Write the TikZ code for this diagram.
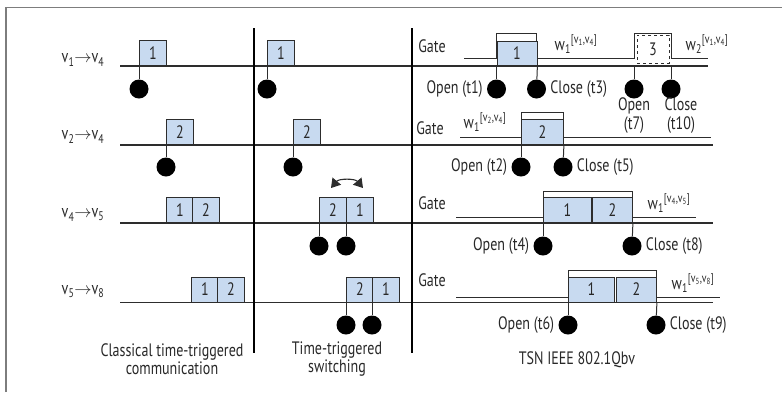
\documentclass[tikz,border=0pt]{standalone}
\usepackage{fontspec}
\setmainfont{PT Sans}[FakeStretch=0.78]
\usetikzlibrary{positioning,arrows.meta}
\definecolor{ttBlue}{RGB}{200,218,240}
\definecolor{ttGray}{RGB}{45,45,45}
\definecolor{ttFrame}{RGB}{125,125,125}
\definecolor{ttText}{RGB}{40,40,40}
\tikzset{
    base/.style={font=\fontsize{18}{18.5}\selectfont, text=ttText, align=center},
    pkt/.style={base, rectangle, draw=ttGray, fill=ttBlue, line width=0.9pt,
                inner sep=0pt, minimum height=25pt, minimum width=27pt, anchor=south west},
    pktdash/.style={base, rectangle, draw=ttGray, fill=white, dashed, line width=0.9pt,
                inner sep=0pt, minimum height=28pt, minimum width=32pt},
    evdot/.style={circle, fill=black, inner sep=0pt, minimum size=19pt},
    pinline/.style={draw=ttGray, line width=1pt},
    tline/.style={draw=ttGray, line width=1.2pt},
    gateline/.style={draw=ttGray, line width=1pt},
    divider/.style={draw=black, line width=1.2pt},
    evtext/.style={base, inner sep=2pt}
}
\begin{document}
\begin{tikzpicture}[x=1pt, y=-1pt]
  \useasboundingbox (0,0) rectangle (782,392);
  % frame
  \draw[ttFrame, line width=1.2pt] (6,392) -- (6,7.5) -- (782,7.5);

  % time lines and dividers
  \draw[tline] (120,66) -- (708,66);
  \draw[tline] (120,145) -- (713,145);
  \draw[tline] (120,223) -- (713,223);
  \draw[tline] (120,302.5) -- (713,302.5);
  \draw[divider] (254,28) -- (254,353);
  \draw[divider] (412,28) -- (412,353);

  % flows
  \node[base] (f1) at (83,60) {v\textsubscript{1}$\rightarrow$v\textsubscript{4}};
  \node[base] (f2) at (83,137) {v\textsubscript{2}$\rightarrow$v\textsubscript{4}};
  \node[base] (f3) at (83,215) {v\textsubscript{4}$\rightarrow$v\textsubscript{5}};
  \node[base] (f4) at (83,292) {v\textsubscript{5}$\rightarrow$v\textsubscript{8}};

  % classical time-triggered communication
  \node[pkt] (a1) at (139,66) {1};
  \node[pkt] (a2) at (166,145) {2};
  \node[pkt] (a3) at (166,223) {1};
  \node[pkt] (a4) at (192,223) {2};
  \node[pkt] (a5) at (191,302.5) {1};
  \node[pkt] (a6) at (217,302.5) {2};
  \node[evdot] (ca1) at (139,89) {};
  \node[evdot] (ca2) at (166,167) {};
  \draw[pinline] (a1.south west) -- (ca1);
  \draw[pinline] (a2.south west) -- (ca2);

  % time-triggered switching
  \node[pkt] (b1) at (267,66) {1};
  \node[pkt] (b2) at (293,145) {2};
  \node[pkt] (b3) at (319,223) {2};
  \node[pkt] (b4) at (346,223) {1};
  \node[pkt] (b5) at (346,302.5) {2};
  \node[pkt] (b6) at (372,302.5) {1};
  \node[evdot] (cb1) at (267,89) {};
  \node[evdot] (cb2) at (293,167) {};
  \node[evdot] (cb3) at (319,246) {};
  \node[evdot] (cb4) at (346,246) {};
  \node[evdot] (cb5) at (346,325) {};
  \node[evdot] (cb6) at (372,325) {};
  \draw[pinline] (b1.south west) -- (cb1);
  \draw[pinline] (b2.south west) -- (cb2);
  \draw[pinline] (b3.south west) -- (cb3);
  \draw[pinline] (b4.south west) -- (cb4);
  \draw[pinline] (b5.south west) -- (cb5);
  \draw[pinline] (b6.south west) -- (cb6);
  \coordinate (swl) at (331,188);
  \coordinate (swr) at (363,188);
  \draw[ttGray, line width=1.1pt, {Triangle[width=11pt,length=9pt]}-{Triangle[width=11pt,length=9pt]}]
    (swl) to[bend left=50] (swr);

  % TSN IEEE 802.1Qbv: gate signals
  \draw[gateline] (464,58) -- (496.5,58) -- (496.5,33) -- (536.5,33) -- (536.5,58)
    -- (634,58) -- (634,33) -- (671,33) -- (671,58) -- (708,58);
  \draw[gateline] (460,137) -- (521,137) -- (521,112) -- (563,112) -- (563,137) -- (711,137);
  \draw[gateline] (456,217.5) -- (543,217.5) -- (543,191) -- (632,191) -- (632,217.5) -- (696,217.5);
  \draw[gateline] (456,297) -- (568,297) -- (568,270) -- (656,270) -- (656,297) -- (720,297);

  \node[base] (g1) at (432,46) {Gate};
  \node[base] (g2) at (430,128) {Gate};
  \node[base] (g3) at (432,203) {Gate};
  \node[base] (g4) at (432,280) {Gate};
  \node[base] (w1) at (576,44) {w\textsubscript{1}\textsuperscript{[v\textsubscript{1},v\textsubscript{4}]}};
  \node[base] (w2) at (707,44) {w\textsubscript{2}\textsuperscript{[v\textsubscript{1},v\textsubscript{4}]}};
  \node[base] (w3) at (485,122) {w\textsubscript{1}\textsuperscript{[v\textsubscript{2},v\textsubscript{4}]}};
  \node[base] (w4) at (669,203) {w\textsubscript{1}\textsuperscript{[v\textsubscript{4},v\textsubscript{5}]}};
  \node[base] (w5) at (693,283) {w\textsubscript{1}\textsuperscript{[v\textsubscript{5},v\textsubscript{8}]}};

  \node[pkt, minimum width=40pt, minimum height=24pt] (q1) at (496.5,66) {1};
  \node[pktdash] (q2) at (653,49) {3};
  \node[pkt, minimum width=42pt] (q3) at (521,145) {2};
  \node[pkt, minimum width=48pt] (q4) at (543,223) {1};
  \node[pkt, minimum width=40pt] (q5) at (592,223) {2};
  \node[pkt, minimum width=46pt] (q6) at (568,302.5) {1};
  \node[pkt, minimum width=40pt] (q7) at (616,302.5) {2};
  \coordinate (q2l) at (634,66);
  \coordinate (q2r) at (671,66);

  \node[evdot] (o1) at (496.5,89) {};
  \node[evdot] (e1) at (536.5,89) {};
  \node[evdot] (o2) at (634,89) {};
  \node[evdot] (e2) at (671,89) {};
  \node[evdot] (o3) at (521,167) {};
  \node[evdot] (e3) at (563,167) {};
  \node[evdot] (o4) at (543,246) {};
  \node[evdot] (e4) at (632,246) {};
  \node[evdot] (o5) at (568,325) {};
  \node[evdot] (e5) at (656,325) {};
  \draw[pinline] (q1.south west) -- (o1);
  \draw[pinline] (q1.south east) -- (e1);
  \draw[pinline] (q2l) -- (o2);
  \draw[pinline] (q2r) -- (e2);
  \draw[pinline] (q3.south west) -- (o3);
  \draw[pinline] (q3.south east) -- (e3);
  \draw[pinline] (q4.south west) -- (o4);
  \draw[pinline] (q5.south east) -- (e4);
  \draw[pinline] (q6.south west) -- (o5);
  \draw[pinline] (q7.south east) -- (e5);

  \node[evtext, left=2pt of o1] {Open (t1)};
  \node[evtext, right=2pt of e1] {Close (t3)};
  \node[evtext, below=-3pt of o2] {Open\\(t7)};
  \node[evtext, below=-3pt of e2, xshift=10pt] {Close\\(t10)};
  \node[evtext, left=2pt of o3] {Open (t2)};
  \node[evtext, right=2pt of e3] {Close (t5)};
  \node[evtext, left=2pt of o4] {Open (t4)};
  \node[evtext, right=2pt of e4] {Close (t8)};
  \node[evtext, left=2pt of o5] {Open (t6)};
  \node[evtext, right=2pt of e5] {Close (t9)};

  % captions
  \node[base] (cap1) at (172,359) {Classical time-triggered\\communication};
  \node[base] (cap2) at (337,359) {Time-triggered\\switching};
  \node[base] (cap3) at (577,360) {TSN IEEE 802.1Qbv};
\end{tikzpicture}
\end{document}
